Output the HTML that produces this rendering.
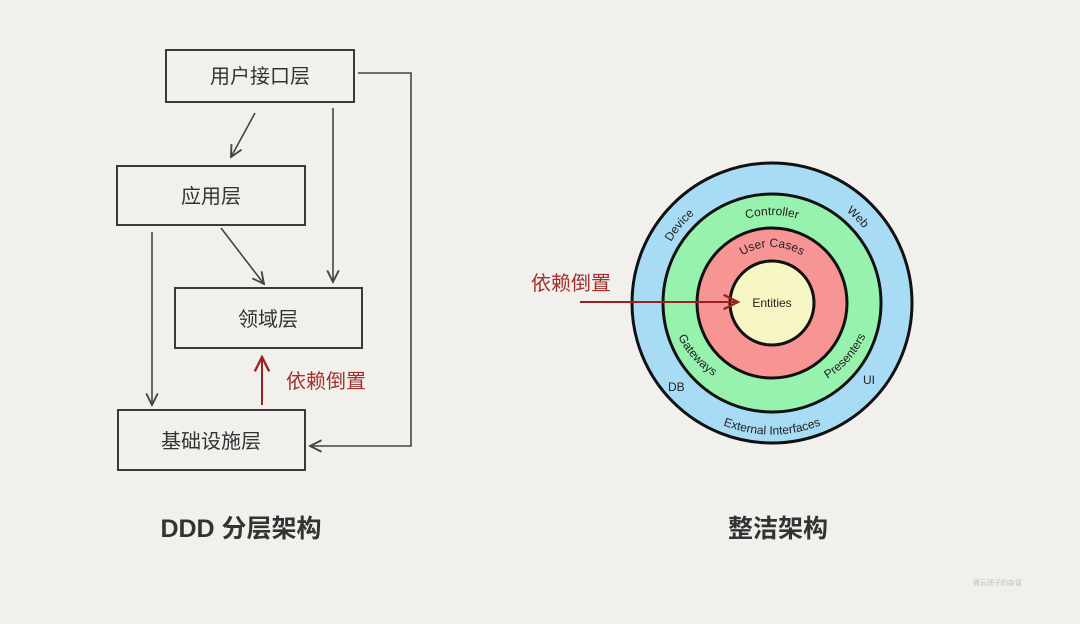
<!DOCTYPE html>
<html><head><meta charset="utf-8"><style>
html,body{margin:0;padding:0;background:#f1f0ed;}
svg{display:block;}
text{font-family:"Liberation Sans","Noto Sans CJK SC",sans-serif;}
</style></head><body>
<svg width="1080" height="624" viewBox="0 0 1080 624" xmlns="http://www.w3.org/2000/svg">
<rect width="1080" height="624" fill="#f1f0ed"/>
<defs>
<marker id="a" viewBox="0 0 10 10" refX="9" refY="5" markerWidth="9" markerHeight="9" orient="auto-start-reverse"><path d="M1,1 L9,5 L1,9" fill="none" stroke="#444" stroke-width="1.3"/></marker>
<marker id="r" viewBox="0 0 10 10" refX="9" refY="5" markerWidth="9" markerHeight="9" orient="auto"><path d="M1,1 L9,5 L1,9" fill="none" stroke="#a01f1f" stroke-width="1.3"/></marker>
<path id="pc" d="M728,226.8 A88,88 0 0 1 816,226.8"/>
<path id="pu" d="M732.4,263.4 A56,56 0 0 1 811.6,263.4"/>
<path id="pd" d="M661.1,262.6 A118,118 0 0 1 713,200.8"/>
<path id="pw" d="M831,200.8 A118,118 0 0 1 874.2,244"/>
<path id="pe" d="M700,413 A131,131 0 0 0 844,413"/>
<path id="pg" d="M675,330 A98,98 0 0 0 720,380"/>
<path id="pp" d="M822,382 A98,98 0 0 0 868,330"/>
</defs>
<g fill="none" stroke="#3a3a3a" stroke-width="2">
<rect x="166" y="50" width="188" height="52"/>
<rect x="117" y="166" width="188" height="59"/>
<rect x="175" y="288" width="187" height="60"/>
<rect x="118" y="410" width="187" height="60"/>
</g>
<g fill="#333" font-size="20" text-anchor="middle">
<text x="260" y="83">用户接口层</text>
<text x="211" y="203">应用层</text>
<text x="268" y="326">领域层</text>
<text x="211" y="448">基础设施层</text>
</g>
<g fill="none" stroke="#444" stroke-width="1.6">
<path d="M255,113 L231,157" marker-end="url(#a)"/>
<path d="M333,108 L333,282" marker-end="url(#a)"/>
<path d="M221,228 L264,284" marker-end="url(#a)"/>
<path d="M152,232 L152,405" marker-end="url(#a)"/>
<path d="M358,73 L411,73 L411,446 L310,446" marker-end="url(#a)"/>
</g>
<path d="M262,405 L262,357" stroke="#a01f1f" stroke-width="2" fill="none" marker-end="url(#r)"/>
<text x="286" y="388" font-size="20" fill="#a3312e">依赖倒置</text>
<circle cx="772" cy="303" r="140" fill="#a8dcf5" stroke="#111" stroke-width="3"/>
<circle cx="772" cy="303" r="109" fill="#97f2ae" stroke="#111" stroke-width="3"/>
<circle cx="772" cy="303" r="75" fill="#f79494" stroke="#111" stroke-width="3"/>
<circle cx="772" cy="303" r="42" fill="#f6f5c4" stroke="#111" stroke-width="3"/>
<g font-size="12" fill="#222">
<text x="772" y="307" text-anchor="middle">Entities</text>
<text><textPath href="#pc" startOffset="50%" text-anchor="middle">Controller</textPath></text>
<text><textPath href="#pu" startOffset="50%" text-anchor="middle">User Cases</textPath></text>
<text><textPath href="#pd" startOffset="50%" text-anchor="middle">Device</textPath></text>
<text><textPath href="#pw" startOffset="50%" text-anchor="middle">Web</textPath></text>
<text><textPath href="#pe" startOffset="50%" text-anchor="middle">External Interfaces</textPath></text>
<text><textPath href="#pg" startOffset="50%" text-anchor="middle">Gateways</textPath></text>
<text><textPath href="#pp" startOffset="50%" text-anchor="middle">Presenters</textPath></text>
<text x="668" y="391">DB</text>
<text x="863" y="384">UI</text>
</g>
<path d="M580,302 L738,302" stroke="#a01f1f" stroke-width="2" fill="none" marker-end="url(#r)"/>
<text x="531" y="290" font-size="20" fill="#a3312e">依赖倒置</text>
<text x="241" y="537" font-size="25" font-weight="bold" fill="#333" text-anchor="middle">DDD 分层架构</text>
<text x="778" y="537" font-size="25" font-weight="bold" fill="#333" text-anchor="middle">整洁架构</text>
<text x="973" y="585" font-size="7" fill="#bbb">微云闭子的杂谈</text>
</svg>
</body></html>
